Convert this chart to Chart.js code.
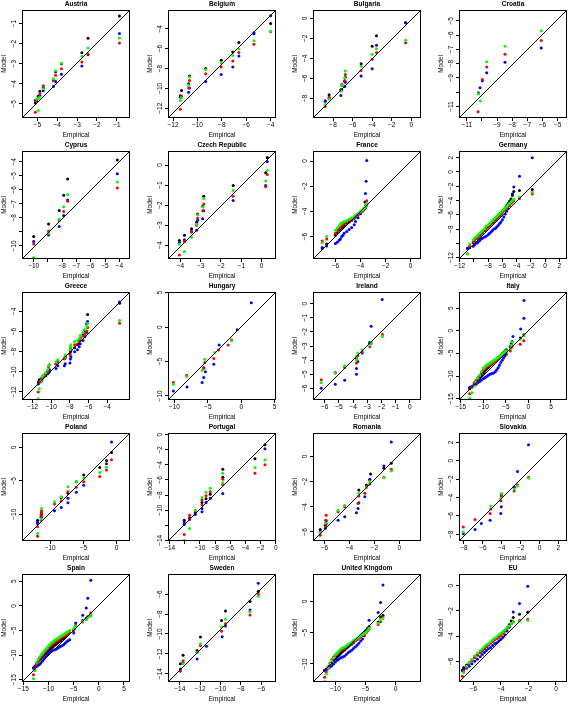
<!DOCTYPE html>
<html><head><meta charset="utf-8">
<script src="https://cdn.jsdelivr.net/npm/chart.js@4.4.1/dist/chart.umd.min.js"></script>
<style>
html,body{margin:0;padding:0;background:#fff;overflow:hidden;}
#wrap{position:relative;width:568px;height:705px;overflow:hidden;background:#fff;}
canvas{position:absolute;}
</style></head><body><div id="wrap"></div>
<script>
const titles = ['Austria','Belgium','Bulgaria','Croatia','Cyprus','Czech Republic','France','Germany','Greece','Hungary','Ireland','Italy','Poland','Portugal','Romania','Slovakia','Spain','Sweden','United Kingdom','EU'];

// ---- Austria
const atXLim=[-5.77,-0.34], atYLim=[-5.7,-0.33], atTicks=[-5,-4,-3,-2,-1], atHide=[];
const atBlack=[[-5.10,-4.95],[-5.03,-4.87],[-4.95,-4.63],[-4.87,-4.37],[-4.70,-4.20],[-4.19,-3.83],[-4.08,-3.40],[-3.79,-3.00],[-2.76,-2.45],[-2.45,-1.73],[-0.87,-0.63]];
const atBlue=[[-5.10,-4.83],[-5.03,-4.85],[-4.95,-4.60],[-4.87,-4.58],[-4.70,-4.35],[-4.19,-4.13],[-4.08,-3.88],[-3.79,-3.53],[-2.76,-3.12],[-2.45,-2.55],[-0.87,-1.50]];
const atRed=[[-5.10,-5.42],[-5.03,-4.87],[-4.95,-4.72],[-4.87,-4.50],[-4.70,-4.10],[-4.19,-3.83],[-4.08,-3.57],[-3.79,-3.25],[-2.76,-2.92],[-2.45,-2.52],[-0.87,-1.97]];
const atGreen=[[-4.95,-5.33],[-5.03,-4.75],[-4.95,-4.72],[-4.87,-4.65],[-4.70,-4.25],[-4.19,-3.75],[-4.08,-3.35],[-3.79,-2.98],[-2.76,-2.63],[-2.45,-2.22],[-0.87,-1.72]];

// ---- Belgium
const beXLim=[-12.41,-3.56], beYLim=[-12.98,-2.11], beTicks=[-12,-10,-8,-6,-4], beHide=[];
const beX=[-11.4,-11.3,-10.72,-10.65,-9.32,-8.05,-7.1,-6.6,-5.37,-4.0];
const beBlack=[-10.75,-10.22,-9.54,-8.76,-7.99,-7.18,-6.33,-5.39,-4.41,-3.46];
const beBlue=[-10.9,-10.85,-10.39,-9.95,-9.3,-8.59,-7.85,-6.74,-4.5,-2.68];
const beRed=[-12.11,-10.79,-9.95,-9.2,-8.53,-7.85,-7.24,-6.4,-5.55,-4.3];
const beGreen=[-11.23,-10.95,-9.65,-8.86,-8.09,-7.41,-6.7,-6.03,-5.2,-4.25];

// ---- Bulgaria
const bgXLim=[-10.05,0.99], bgYLim=[-9.98,0.84], bgTicks=[-8,-6,-4,-2,0], bgHide=[];
const bgX=[-8.8,-8.4,-7.2,-7.1,-6.8,-6.75,-5.13,-4.0,-3.56,-0.58];
const bgBlack=[-8.3,-7.66,-7.16,-6.7,-6.3,-5.9,-4.54,-2.79,-1.75,-0.44];
const bgBlue=[-8.24,-8.0,-7.73,-7.16,-6.82,-6.39,-5.78,-5.04,-2.69,-0.44];
const bgRed=[-8.84,-7.9,-7.23,-6.62,-6.22,-5.61,-5.21,-4.1,-3.43,-2.45];
const bgGreen=[-8.64,-8.1,-7.3,-6.7,-5.95,-5.28,-4.8,-3.6,-3.03,-2.18];

// ---- Croatia
const hrXLim=[-11.51,-4.38], hrYLim=[-11.8,-4.25], hrTicks=[-11,-10,-9,-8,-7,-6,-5], hrHide=[-10];
const hrBlack=[];
const hrBlue=[[-10.23,-10.04],[-10.12,-9.68],[-9.97,-9.19],[-9.68,-8.63],[-8.47,-7.9],[-6.08,-6.9]];
const hrRed=[[-10.25,-11.37],[-10.23,-10.08],[-9.97,-9.1],[-9.68,-8.23],[-8.47,-7.34],[-6.08,-6.38]];
const hrGreen=[[-10.1,-10.62],[-10.23,-10.1],[-9.68,-7.86],[-8.47,-6.78],[-6.08,-5.7]];

// ---- Cyprus
const cyXLim=[-10.82,-3.25], cyYLim=[-10.93,-3.23], cyTicks=[-10,-9,-8,-7,-6,-5,-4], cyHide=[-9];
const cyX=[-10.0,-8.96,-8.21,-7.9,-7.62,-4.14];
const cyBlack=[-9.33,-8.43,-7.47,-6.39,-5.22,-3.88];
const cyBlue=[-9.69,-9.22,-8.62,-7.83,-6.73,-4.86];
const cyRed=[-9.86,-8.93,-8.19,-7.54,-6.82,-5.87];
const cyGreen=[-10.82,-9.1,-8.09,-7.2,-6.34,-5.44];

// ---- Czech Republic
const czXLim=[-4.61,0.71], czYLim=[-4.69,0.70], czTicks=[-4,-3,-2,-1,0], czHide=[];
const czX=[-4.05,-3.8,-3.45,-3.2,-3.15,-2.9,-2.85,-1.4,0.2,0.28];
const czBlack=[-3.77,-3.51,-3.18,-2.86,-2.44,-2.06,-1.56,-1.02,-0.38,0.37];
const czBlue=[-3.87,-3.73,-3.3,-3.26,-2.75,-2.68,-2.28,-1.77,-1.02,0.17];
const czRed=[-4.49,-3.82,-3.36,-3.01,-2.64,-2.28,-1.94,-1.56,-1.09,-0.47];
const czGreen=[-3.95,-4.32,-3.6,-2.95,-2.48,-2.09,-1.67,-1.27,-0.8,-0.27];

// ---- France
const frXLim=[-7.79,0.83], frYLim=[-7.79,0.8], frTicks=[-6,-4,-2,0], frHide=[];
const frX=[-7.05,-6.7,-6.0,-5.85,-5.7,-5.6,-5.5,-5.4,-5.3,-5.1,-4.9,-4.7,-4.5,-4.4,-4.2,-4.0,-3.85,-3.75,-3.65,-3.6,-3.55,-3.5];
const frBlack=[-6.95,-6.6,-5.9,-5.7,-5.5,-5.4,-5.3,-5.2,-5.1,-4.95,-4.85,-4.7,-4.55,-4.45,-4.3,-4.1,-3.95,-3.85,-3.75,-3.65,-3.55,-3.45];
const frBlue=[-6.88,-6.75,-6.55,-6.45,-6.3,-6.2,-6.0,-5.9,-5.75,-5.6,-5.45,-5.28,-5.07,-4.8,-4.5,-4.2,-4.0,-3.9,-3.25,-2.59,-1.6,0.05];
const frRed=[-6.35,-6.2,-5.75,-5.5,-5.35,-5.25,-5.15,-5.05,-4.95,-4.85,-4.75,-4.62,-4.5,-4.4,-4.25,-4.05,-3.95,-3.85,-3.75,-3.55,-3.4,-3.15];
const frGreen=[-6.5,-6.0,-5.5,-5.3,-5.15,-5.0,-4.92,-4.85,-4.8,-4.72,-4.6,-4.5,-4.4,-4.3,-4.15,-4.0,-3.9,-3.8,-3.7,-3.6,-3.5,-3.4];

// ---- Germany
const deXLim=[-12.1,3.08], deYLim=[-12.19,2.94], deTicks=[-12,-10,-8,-6,-4,-2,0,2], deHide=[-10];
const deX=[-10.9,-10.6,-10.1,-9.9,-9.6,-9.4,-9.2,-9.0,-8.8,-8.5,-8.3,-8.0,-7.8,-7.6,-7.4,-7.2,-7.0,-6.8,-6.6,-6.4,-6.2,-6.0,-5.8,-5.6,-5.4,-5.2,-5.0,-4.8,-4.6,-4.4,-3.6,-1.8];
const deBlack=[-10.7,-10.4,-9.9,-9.6,-9.3,-9.1,-8.9,-8.7,-8.5,-8.2,-8.0,-7.7,-7.5,-7.3,-7.1,-6.9,-6.7,-6.5,-6.3,-6.1,-5.9,-5.6,-5.3,-5.0,-4.7,-4.4,-4.1,-3.8,-3.1,-2.75,-2.6,-2.45];
const deBlue=[-10.7,-10.6,-10.4,-10.2,-10.0,-9.8,-9.6,-9.4,-9.3,-9.1,-9.0,-8.8,-8.6,-8.4,-8.2,-8.0,-7.9,-7.7,-7.5,-7.2,-7.0,-6.7,-6.3,-5.9,-5.5,-5.1,-4.7,-4.3,-3.3,-2.1,-0.58,2.0];
const deRed=[-11.47,-10.4,-9.8,-9.5,-9.2,-9.0,-8.8,-8.6,-8.4,-8.1,-7.9,-7.6,-7.4,-7.2,-7.0,-6.8,-6.6,-6.4,-6.2,-6.0,-5.8,-5.6,-5.4,-5.2,-5.0,-4.8,-4.6,-4.4,-4.2,-4.0,-3.7,-3.1];
const deGreen=[-11.5,-10.1,-9.5,-9.2,-9.0,-8.8,-8.6,-8.4,-8.2,-7.9,-7.6,-7.4,-7.2,-7.0,-6.8,-6.6,-6.4,-6.2,-6.0,-5.8,-5.6,-5.4,-5.2,-5.0,-4.8,-4.6,-4.4,-4.2,-4.0,-3.8,-3.5,-2.85];

// ---- Greece
const grXLim=[-13.15,-1.55], grYLim=[-12.8,-2.07], grTicks=[-12,-10,-8,-6,-4], grHide=[];
const grX=[-11.4,-11.3,-11.1,-11.0,-10.9,-10.6,-10.4,-10.3,-10.2,-9.5,-9.3,-8.6,-8.5,-8.0,-7.95,-7.9,-7.5,-7.2,-7.0,-6.9,-6.6,-6.4,-6.2,-6.1,-2.67];
const grBlack=[-11.0,-10.8,-10.73,-10.6,-10.5,-10.2,-10.0,-9.9,-9.8,-9.2,-8.9,-8.7,-8.5,-8.2,-8.0,-7.9,-7.6,-7.3,-6.9,-6.67,-6.3,-5.9,-5.23,-4.3,-3.2];
const grBlue=[-11.2,-11.0,-10.97,-10.8,-10.6,-10.4,-10.2,-10.1,-10.0,-9.67,-9.4,-9.4,-9.2,-9.13,-8.73,-8.5,-8.0,-7.8,-7.5,-7.2,-6.9,-6.5,-6.1,-5.0,-3.07];
const grRed=[-12.0,-11.07,-10.8,-10.6,-10.5,-10.3,-10.0,-9.5,-9.3,-9.23,-9.0,-8.7,-8.6,-8.3,-7.73,-7.5,-7.3,-7.23,-7.0,-6.7,-6.47,-6.2,-5.97,-5.6,-5.17];
const grGreen=[-12.67,-11.67,-10.9,-10.5,-10.33,-10.1,-9.8,-9.4,-9.3,-9.0,-8.8,-8.57,-8.3,-7.8,-7.5,-7.3,-7.0,-6.9,-6.7,-6.4,-6.1,-5.8,-5.5,-5.2,-4.9];

// ---- Hungary
const huXLim=[-10.95,5.2], huYLim=[-10.6,5.1], huTicks=[-10,-5,0,5], huHide=[];
const huBlack=[[-5.6,-5.9]];
const huBlue=[[-10.15,-9.3],[-8.1,-8.7],[-5.85,-8.07],[-5.6,-7.34],[-5.35,-6.5],[-4.1,-5.4],[-3.3,-2.6],[-0.6,-0.37],[1.5,3.54]];
const huRed=[[-10.15,-8.07],[-8.15,-7.0],[-5.6,-6.0],[-5.45,-5.15],[-4.1,-4.56],[-3.4,-3.34],[-1.95,-2.6],[-1.45,-1.83]];
const huGreen=[[-10.15,-8.3],[-8.15,-7.2],[-5.85,-6.3],[-5.45,-4.66],[-3.95,-3.68],[-1.45,-2.0]];

// ---- Ireland
const ieXLim=[-6.82,0.78], ieYLim=[-6.83,0.83], ieTicks=[-6,-5,-4,-3,-2,-1,0], ieHide=[];
const ieBlack=[[-3.76,-3.8],[-2.82,-2.8]];
const ieBlue=[[-6.24,-6.0],[-5.25,-5.71],[-4.59,-5.43],[-3.76,-5.0],[-3.76,-4.6],[-3.67,-4.1],[-3.36,-3.5],[-2.82,-2.74],[-2.73,-1.6],[-1.95,0.29]];
const ieRed=[[-6.24,-5.4],[-5.25,-4.88],[-4.59,-4.52],[-3.76,-4.21],[-3.76,-3.88],[-3.67,-3.7],[-3.36,-3.4],[-2.82,-3.05],[-2.73,-2.8],[-1.93,-2.19]];
const ieGreen=[[-6.24,-5.6],[-5.25,-4.93],[-4.59,-4.4],[-3.76,-4.0],[-3.76,-3.75],[-3.67,-3.5],[-3.36,-3.26],[-2.82,-2.93],[-2.73,-2.75],[-1.93,-2.33]];

// ---- Italy
const itXLim=[-15.37,8.56], itYLim=[-15.3,8.56], itTicks=[-15,-10,-5,0,5], itHide=[];
const itX=[-13.0,-12.5,-12.0,-11.6,-11.2,-10.8,-10.4,-10.0,-9.7,-9.4,-9.1,-8.8,-8.5,-8.2,-7.9,-7.6,-7.3,-7.0,-6.7,-6.4,-6.1,-5.8,-5.5,-5.2,-4.9,-4.0,-3.8,-3.6,-1.8,-1.0];
const itBlack=[-12.8,-12.3,-11.8,-11.4,-10.9,-10.4,-9.9,-9.4,-9.0,-8.6,-8.3,-8.0,-7.7,-7.4,-7.1,-6.8,-6.6,-6.3,-6.0,-5.7,-5.4,-5.1,-4.8,-4.5,-4.2,-3.7,-2.9,-2.4,-1.6,-0.9];
const itRed=[-13.9,-12.5,-11.5,-11.0,-10.4,-9.9,-9.3,-8.7,-8.4,-8.1,-7.9,-7.7,-7.5,-7.3,-7.1,-6.9,-6.7,-6.5,-6.3,-6.0,-5.7,-5.4,-5.2,-4.9,-4.7,-4.5,-3.8,-3.4,-2.96,-2.2];
const itGreen=[-14.9,-13.7,-12.2,-11.3,-10.5,-9.8,-9.0,-8.3,-8.0,-7.7,-7.5,-7.3,-7.1,-6.9,-6.7,-6.5,-6.3,-6.1,-5.9,-5.7,-5.4,-5.1,-4.9,-4.6,-4.4,-4.0,-3.2,-2.5,-1.9,-1.1];
const itBlueX=[-13.0,-12.5,-12.0,-11.6,-11.2,-10.8,-10.4,-10.0,-9.7,-9.4,-9.1,-8.8,-8.5,-8.2,-7.9,-7.6,-7.3,-7.0,-6.7,-6.4,-6.1,-5.8,-5.5,-5.2,-4.9,-4.0,-3.4,-1.7,-1.0,-0.96];
const itBlue=[-12.5,-12.3,-12.0,-11.8,-11.5,-11.2,-10.9,-10.6,-10.4,-10.2,-10.0,-9.8,-9.6,-9.5,-9.4,-9.3,-9.0,-8.6,-8.2,-7.6,-7.0,-6.5,-6.0,-5.6,-5.2,-3.5,-1.26,0.37,2.74,6.67];

// ---- Poland
const plXLim=[-14.24,2.02], plYLim=[-14.02,2.16], plTicks=[-10,-5,0], plHide=[];
const plBlack=[[-11.9,-10.9],[-11.36,-10.4],[-11.3,-9.8],[-8.33,-7.5],[-7.32,-6.88],[-6.06,-5.13],[-4.95,-4.12],[-2.53,-3.0],[-1.52,-1.96],[-0.76,-0.75]];
const plBlue=[[-11.9,-11.4],[-11.9,-11.2],[-11.36,-10.5],[-11.3,-10.0],[-9.34,-9.5],[-8.33,-9.0],[-7.32,-8.29],[-7.32,-7.6],[-6.06,-6.73],[-4.95,-5.68],[-1.52,-2.46],[-0.76,0.8]];
const plRed=[[-11.9,-13.3],[-11.9,-11.9],[-11.36,-10.9],[-11.36,-10.15],[-11.3,-9.8],[-11.3,-9.5],[-9.34,-8.49],[-8.33,-7.99],[-7.32,-6.63],[-6.06,-5.98],[-4.95,-5.13],[-2.53,-4.37],[-1.52,-3.37],[-0.76,-1.86]];
const plGreen=[[-11.9,-12.9],[-11.36,-10.7],[-11.3,-9.15],[-9.34,-8.14],[-8.33,-7.39],[-7.32,-5.88],[-6.06,-5.1],[-4.95,-4.62],[-2.53,-3.77],[-1.52,-2.96]];

// ---- Portugal
const ptXLim=[-14.22,0.04], ptYLim=[-14.09,0.22], ptTicks=[-14,-12,-10,-8,-6,-4,-2,0], ptHide=[-12];
const ptBlack=[[-12.08,-11.33],[-11.37,-11.0],[-10.62,-10.35],[-9.73,-9.0],[-9.2,-8.5],[-8.63,-7.9],[-6.99,-5.64],[-6.99,-4.58],[-2.74,-3.2],[-1.42,-1.33]];
const ptBlue=[[-12.08,-11.91],[-12.08,-11.64],[-11.37,-11.1],[-10.62,-10.58],[-9.73,-10.22],[-9.73,-9.78],[-9.2,-8.98],[-8.63,-8.44],[-6.99,-7.78],[-1.42,-1.87]];
const ptRed=[[-12.08,-13.24],[-11.37,-11.24],[-11.37,-10.67],[-10.62,-10.13],[-9.73,-9.33],[-9.73,-8.67],[-9.2,-8.09],[-8.63,-7.56],[-6.99,-6.6],[-6.99,-5.91],[-2.74,-5.11],[-1.42,-4.0]];
const ptGreen=[[-12.08,-14.0],[-11.37,-12.44],[-10.62,-10.0],[-9.73,-8.31],[-9.2,-7.64],[-8.63,-7.11],[-6.99,-6.36],[-6.99,-5.11],[-2.74,-4.36],[-1.42,-3.33]];

// ---- Romania
const roXLim=[-6.91,1.74], roYLim=[-6.72,1.87], roTicks=[-6,-4,-2,0], roHide=[];
const roBlack=[[-6.33,-5.81],[-5.92,-5.47],[-5.85,-5.1],[-3.24,-2.67],[-2.63,-2.27],[-2.36,-1.87],[-2.3,-1.39],[-1.23,-0.93],[-0.64,-0.53]];
const roBlue=[[-6.33,-6.0],[-5.92,-5.7],[-5.85,-5.35],[-4.9,-5.07],[-4.37,-4.8],[-3.43,-4.48],[-3.3,-4.13],[-3.24,-3.68],[-2.76,-3.2],[-2.36,-1.81],[-1.23,-0.75],[-0.64,1.15]];
const roRed=[[-6.33,-6.27],[-5.92,-5.6],[-5.9,-5.07],[-5.85,-4.67],[-4.9,-4.4],[-4.37,-4.0],[-3.3,-3.73],[-3.24,-3.15],[-2.76,-2.93],[-2.63,-2.4],[-2.36,-2.19],[-1.23,-1.65],[-0.64,-1.01]];
const roGreen=[[-6.33,-6.05],[-5.92,-5.3],[-4.9,-4.27],[-4.37,-3.87],[-3.24,-2.93],[-2.63,-2.48],[-2.36,-2.0],[-1.23,-1.68],[-0.64,-1.15]];

// ---- Slovakia
const skXLim=[-8.53,2.92], skYLim=[-8.73,3.02], skTicks=[-8,-6,-4,-2,0,2], skHide=[];
const skBlack=[[-2.68,-2.9],[-4.05,-3.7]];
const skBlue=[[-8.07,-7.93],[-6.83,-7.49],[-6.16,-6.83],[-5.23,-6.47],[-4.1,-5.74],[-4.05,-5.0],[-2.68,-2.82],[-2.33,-1.18],[-1.16,1.74]];
const skRed=[[-8.07,-7.2],[-6.83,-6.4],[-5.23,-5.74],[-5.16,-5.26],[-4.1,-4.35],[-4.03,-3.84],[-2.68,-3.3],[-2.33,-2.64],[-1.16,-1.8]];
const skGreen=[[-8.07,-7.74],[-5.16,-4.93],[-4.1,-4.1],[-4.03,-3.55],[-2.68,-3.07],[-2.33,-2.75],[-1.16,-1.9]];

// ---- Spain
const esXLim=[-15.27,6.2], esYLim=[-15.46,6.46], esTicks=[-15,-10,-5,0,5], esHide=[];
const esX=[-13.0,-12.7,-12.4,-12.1,-11.8,-11.5,-11.2,-10.9,-10.6,-10.3,-10.0,-9.7,-9.4,-9.1,-8.8,-8.5,-8.2,-7.9,-7.6,-7.3,-7.0,-6.7,-6.4,-6.1,-5.8,-5.0,-4.8,-4.6,-3.2,-2.5,-2.2,-1.6];
const esBlack=[-12.6,-12.2,-11.8,-11.4,-11.0,-10.7,-10.3,-10.0,-9.7,-9.4,-9.1,-8.8,-8.5,-8.3,-8.0,-7.8,-7.5,-7.3,-7.1,-6.8,-6.6,-6.3,-6.0,-5.7,-5.4,-4.9,-4.5,-4.0,-3.0,-2.5,-2.2,-2.0];
const esBlue=[-12.6,-12.4,-12.3,-12.1,-11.9,-11.6,-11.2,-10.8,-10.4,-10.0,-9.7,-9.4,-9.2,-9.0,-8.9,-8.8,-8.6,-8.4,-8.2,-8.08,-7.9,-7.6,-7.3,-7.1,-6.9,-5.5,-4.5,-3.5,-1.92,-0.46,1.52,5.17];
const esRed=[-14.0,-12.8,-12.0,-11.3,-10.8,-10.4,-10.0,-9.6,-9.2,-8.9,-8.5,-8.2,-7.9,-7.7,-7.4,-7.2,-7.0,-6.8,-6.6,-6.4,-6.2,-6.0,-5.8,-5.63,-5.4,-5.0,-4.6,-4.2,-3.3,-2.8,-2.3,-1.46];
const esGreen=[-14.8,-13.2,-11.5,-10.9,-10.4,-10.0,-9.6,-9.2,-8.8,-8.5,-8.1,-7.8,-7.5,-7.3,-7.0,-6.8,-6.6,-6.4,-6.2,-6.0,-5.8,-5.6,-5.4,-5.2,-5.0,-4.7,-4.4,-4.1,-3.2,-2.7,-2.3,-1.99];

// ---- Sweden
const seXLim=[-15.15,-4.56], seYLim=[-14.84,-3.97], seTicks=[-14,-12,-10,-8,-6], seHide=[];
const seBlack=[[-13.93,-13.0],[-13.67,-12.15],[-12.3,-11.68],[-11.97,-10.32],[-9.9,-8.64],[-9.51,-7.69],[-7.11,-6.74],[-6.3,-5.73]];
const seBlue=[[-13.93,-13.53],[-13.67,-12.9],[-12.3,-12.52],[-11.38,-11.24],[-9.84,-10.29],[-9.51,-9.2],[-7.11,-7.59],[-6.3,-4.89]];
const seRed=[[-13.93,-13.77],[-13.67,-12.69],[-12.3,-11.85],[-11.97,-11.17],[-9.9,-9.72],[-9.51,-8.97],[-7.11,-8.1],[-6.3,-6.0]];
const seGreen=[[-13.93,-14.95],[-13.67,-13.0],[-12.3,-11.9],[-11.97,-11.0],[-9.9,-9.3],[-9.51,-8.53],[-7.11,-7.76],[-6.3,-6.2]];

// ---- United Kingdom
const ukXLim=[-13.72,4.22], ukYLim=[-12.9,4.41], ukTicks=[-10,-5,0], ukHide=[];
const ukX=[-11.8,-11.5,-11.2,-10.9,-10.6,-10.3,-10.0,-9.7,-9.4,-9.1,-8.8,-8.5,-8.2,-7.9,-7.6,-7.3,-7.0,-6.7,-6.4,-6.1,-5.8,-5.5,-5.2,-4.9,-4.6,-4.4,-2.9,-2.5,-2.1];
const ukBlack=[-11.0,-10.8,-10.5,-10.2,-9.9,-9.5,-9.2,-8.9,-8.6,-8.3,-8.0,-7.8,-7.5,-7.3,-7.0,-6.8,-6.6,-6.3,-6.1,-5.8,-5.5,-5.2,-4.9,-4.6,-4.3,-4.0,-3.3,-2.47,-2.2];
const ukBlue=[-11.08,-10.9,-10.7,-10.5,-10.3,-10.0,-9.7,-9.4,-9.2,-9.0,-8.9,-8.76,-8.5,-8.2,-8.0,-7.8,-7.53,-7.3,-7.0,-6.7,-6.34,-6.0,-5.5,-4.9,-4.3,-3.0,-1.77,-0.16,2.63];
const ukRed=[-12.15,-11.3,-10.5,-9.9,-9.3,-8.9,-8.6,-8.3,-8.0,-7.8,-7.6,-7.5,-7.3,-7.1,-6.9,-6.7,-6.45,-6.3,-6.1,-5.9,-5.7,-5.5,-5.3,-5.0,-4.7,-4.4,-3.7,-3.23,-2.47];
const ukGreen=[-12.8,-11.6,-10.6,-10.0,-9.5,-9.0,-8.5,-8.2,-7.9,-7.6,-7.4,-7.3,-7.1,-6.9,-6.7,-6.5,-6.24,-6.1,-5.9,-5.7,-5.5,-5.3,-5.1,-4.9,-4.6,-4.3,-3.5,-2.8,-2.74];

// ---- EU
const euXLim=[-7.04,0.8], euYLim=[-7.65,0.93], euTicks=[-6,-4,-2,0], euHide=[];
const euX=[-6.8,-6.7,-6.5,-6.3,-6.1,-5.9,-5.7,-5.5,-5.35,-5.2,-5.05,-4.9,-4.75,-4.6,-4.45,-4.3,-4.15,-4.0,-3.85,-3.7,-3.55,-3.4,-3.25,-3.1,-2.65,-2.05];
const euBlack=[-6.7,-6.5,-6.3,-6.1,-5.9,-5.7,-5.5,-5.3,-5.15,-5.0,-4.85,-4.7,-4.55,-4.4,-4.25,-4.15,-4.0,-3.85,-3.7,-3.55,-3.35,-3.1,-2.8,-2.53,-2.27,-2.1];
const euBlue=[-6.75,-6.65,-6.55,-6.4,-6.2,-6.0,-5.85,-5.65,-5.47,-5.3,-5.15,-5.0,-4.9,-4.75,-4.6,-4.53,-4.4,-4.25,-4.1,-3.9,-3.6,-3.3,-3.0,-2.08,-1.41,-0.05];
const euRed=[-7.2,-6.8,-6.5,-6.2,-5.95,-5.7,-5.5,-5.3,-5.1,-4.95,-4.8,-4.7,-4.55,-4.42,-4.3,-4.2,-4.1,-3.95,-3.8,-3.6,-3.4,-3.2,-3.0,-2.85,-2.75,-2.67];
const euGreen=[-7.65,-6.9,-6.4,-6.1,-5.85,-5.55,-5.35,-5.15,-5.0,-4.85,-4.7,-4.6,-4.45,-4.3,-4.15,-4.05,-3.9,-3.8,-3.65,-3.5,-3.35,-3.2,-3.0,-2.9,-2.8,-2.75];

// ---------- builders
const P = (xs, ys) => ys.map((y, i) => ({x: xs[i], y: y}));
const Q = pairs => pairs.map(p => ({x: p[0], y: p[1]}));

const panels = [
  [atXLim, atYLim, atTicks, atHide, [Q(atBlack), Q(atBlue), Q(atRed), Q(atGreen)]],
  [beXLim, beYLim, beTicks, beHide, [P(beX,beBlack), P(beX,beBlue), P(beX,beRed), P(beX,beGreen)]],
  [bgXLim, bgYLim, bgTicks, bgHide, [P(bgX,bgBlack), P(bgX,bgBlue), P(bgX,bgRed), P(bgX,bgGreen)]],
  [hrXLim, hrYLim, hrTicks, hrHide, [Q(hrBlack), Q(hrBlue), Q(hrRed), Q(hrGreen)]],
  [cyXLim, cyYLim, cyTicks, cyHide, [P(cyX,cyBlack), P(cyX,cyBlue), P(cyX,cyRed), P(cyX,cyGreen)]],
  [czXLim, czYLim, czTicks, czHide, [P(czX,czBlack), P(czX,czBlue), P(czX,czRed), P(czX,czGreen)]],
  [frXLim, frYLim, frTicks, frHide, [P(frX,frBlack), P(frX,frBlue), P(frX,frRed), P(frX,frGreen)]],
  [deXLim, deYLim, deTicks, deHide, [P(deX,deBlack), P(deX,deBlue), P(deX,deRed), P(deX,deGreen)]],
  [grXLim, grYLim, grTicks, grHide, [P(grX,grBlack), P(grX,grBlue), P(grX,grRed), P(grX,grGreen)]],
  [huXLim, huYLim, huTicks, huHide, [Q(huBlack), Q(huBlue), Q(huRed), Q(huGreen)]],
  [ieXLim, ieYLim, ieTicks, ieHide, [Q(ieBlack), Q(ieBlue), Q(ieRed), Q(ieGreen)]],
  [itXLim, itYLim, itTicks, itHide, [P(itX,itBlack), P(itBlueX,itBlue), P(itX,itRed), P(itX,itGreen)]],
  [plXLim, plYLim, plTicks, plHide, [Q(plBlack), Q(plBlue), Q(plRed), Q(plGreen)]],
  [ptXLim, ptYLim, ptTicks, ptHide, [Q(ptBlack), Q(ptBlue), Q(ptRed), Q(ptGreen)]],
  [roXLim, roYLim, roTicks, roHide, [Q(roBlack), Q(roBlue), Q(roRed), Q(roGreen)]],
  [skXLim, skYLim, skTicks, skHide, [Q(skBlack), Q(skBlue), Q(skRed), Q(skGreen)]],
  [esXLim, esYLim, esTicks, esHide, [P(esX,esBlack), P(esX,esBlue), P(esX,esRed), P(esX,esGreen)]],
  [seXLim, seYLim, seTicks, seHide, [Q(seBlack), Q(seBlue), Q(seRed), Q(seGreen)]],
  [ukXLim, ukYLim, ukTicks, ukHide, [P(ukX,ukBlack), P(ukX,ukBlue), P(ukX,ukRed), P(ukX,ukGreen)]],
  [euXLim, euYLim, euTicks, euHide, [P(euX,euBlack), P(euX,euBlue), P(euX,euRed), P(euX,euGreen)]]
];

const seriesColors = ['#000000', '#0000FF', '#FF0000', '#00FF00'];
const FONT = "'Liberation Sans', Arial, Helvetica, sans-serif";
const fmt = v => (v < 0 ? '\u2212' + Math.abs(v) : String(v));
const wrap = document.getElementById('wrap');

panels.forEach((p, i) => {
  const [xl, yl, tk, hide, series] = p;
  const col = i % 4, row = Math.floor(i / 4);
  const cv = document.createElement('canvas');
  cv.width = 146; cv.height = 141;
  cv.style.left = Math.round(145.7 * col) + 'px';
  cv.style.top = (141 * row) + 'px';
  wrap.appendChild(cv);

  const ds = series.map((d, k) => ({
    type: 'scatter', data: d, backgroundColor: seriesColors[k], borderWidth: 0,
    pointRadius: 1.5, pointHoverRadius: 1.5, order: 4 - k
  }));
  ds.push({type: 'line', data: [{x: xl[0], y: yl[0]}, {x: xl[1], y: yl[1]}],
    borderColor: '#000', borderWidth: 1, pointRadius: 0, fill: false, order: 0});

  const frame = {
    id: 'frame' + i,
    afterDraw(chart) {
      const ctx = chart.ctx, ca = chart.chartArea, ys = chart.scales.y;
      ctx.save();
      ctx.strokeStyle = '#000'; ctx.lineWidth = 1;
      ctx.strokeRect(Math.round(ca.left) + 0.5, Math.round(ca.top) + 0.5,
        Math.round(ca.right - ca.left) - 1, Math.round(ca.bottom - ca.top) - 1);
      ctx.fillStyle = '#000';
      ctx.font = '6.5px ' + FONT;
      ctx.textAlign = 'center'; ctx.textBaseline = 'middle';
      ys.ticks.forEach(t => {
        if (hide.includes(t.value)) return;
        const y = ys.getPixelForValue(t.value);
        ctx.save();
        ctx.translate(ca.left - 7.5, y);
        ctx.rotate(-Math.PI / 2);
        ctx.fillText(fmt(t.value), 0, 0);
        ctx.restore();
      });
      ctx.restore();
    }
  };

  const gridOpts = {drawOnChartArea: false, drawTicks: true, tickLength: 3, tickColor: '#000', tickWidth: 1, color: '#000'};

  new Chart(cv, {
    type: 'scatter',
    data: {datasets: ds},
    options: {
      responsive: false, animation: false, devicePixelRatio: 1, events: [],
      layout: {padding: {left: 0, right: 16, top: 0, bottom: 0}},
      plugins: {
        legend: {display: false}, tooltip: {enabled: false},
        title: {display: true, text: titles[i], fullSize: false, color: '#000',
          font: {family: FONT, size: 6.6, weight: 'bold'}, padding: {top: 0.4, bottom: 1.68}}
      },
      scales: {
        x: {
          type: 'linear', position: 'bottom', min: xl[0], max: xl[1],
          afterBuildTicks: s => { s.ticks = tk.map(v => ({value: v})); },
          afterFit: s => { s.height = 23; },
          ticks: {autoSkip: false, maxRotation: 0, minRotation: 0, padding: 0, color: '#000',
            font: {family: FONT, size: 6.5}, callback: v => hide.includes(v) ? '' : fmt(v)},
          grid: gridOpts, border: {display: false},
          title: {display: true, text: 'Empirical', color: '#000', font: {family: FONT, size: 6.5}, padding: {top: 0, bottom: 2.1}}
        },
        y: {
          type: 'linear', position: 'left', min: yl[0], max: yl[1],
          afterBuildTicks: s => { s.ticks = tk.map(v => ({value: v})); },
          afterFit: s => { s.width = 22; },
          ticks: {display: false},
          grid: gridOpts, border: {display: false},
          title: {display: true, text: 'Model', color: '#000', font: {family: FONT, size: 6.5}, padding: {top: 0.3, bottom: 0}}
        }
      }
    },
    plugins: [frame]
  });
});
</script>
</body></html>
